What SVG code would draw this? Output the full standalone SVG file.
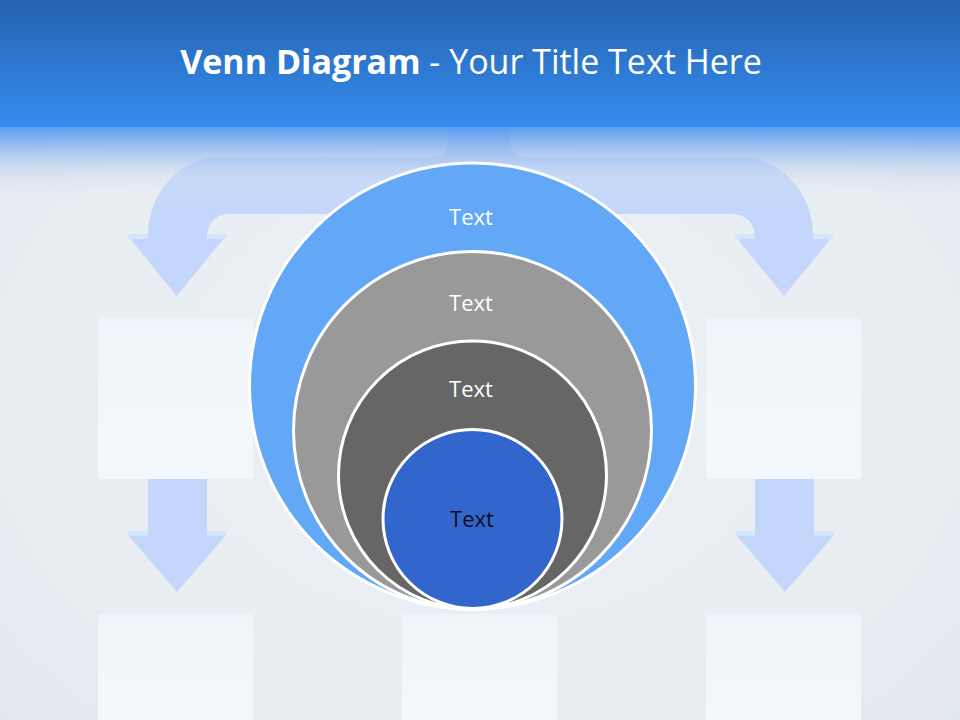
<svg xmlns="http://www.w3.org/2000/svg" width="960" height="720" viewBox="0 0 960 720">
<defs>
<radialGradient id="bg" cx="50%" cy="55%" r="70%">
<stop offset="0" stop-color="#edf1f5"/>
<stop offset="0.7" stop-color="#e8edf2"/>
<stop offset="1" stop-color="#e1e7ee"/>
</radialGradient>
<linearGradient id="hdr" x1="0" y1="0" x2="0" y2="1">
<stop offset="0" stop-color="#2562b0"/>
<stop offset="1" stop-color="#358def"/>
</linearGradient>
<linearGradient id="fade" x1="0" y1="0" x2="0" y2="1">
<stop offset="0" stop-color="#5299f0" stop-opacity="0.95"/>
<stop offset="0.28" stop-color="#8ab3ee" stop-opacity="0.75"/>
<stop offset="0.62" stop-color="#c4d6ef" stop-opacity="0.45"/>
<stop offset="1" stop-color="#e8edf2" stop-opacity="0"/>
</linearGradient>
<linearGradient id="box" x1="0" y1="0" x2="0" y2="1">
<stop offset="0" stop-color="#eff4fa"/>
<stop offset="0.15" stop-color="#f1f6fb"/>
<stop offset="1" stop-color="#f3f8fd"/>
</linearGradient>
<style>
.arrow{fill:#c4d6fb}
.strip{fill:#d2e5fa}
.box{fill:url(#box)}
.ring{stroke:#ffffff;stroke-width:3}
.lbl{font-family:"Open Sans","Noto Sans",sans-serif;font-size:22px;text-anchor:middle}
</style>
</defs>
<rect width="960" height="720" fill="url(#bg)"/>

<g id="connectors">
<path class="arrow" d="M448 100 L448 142 A15 15 0 0 1 433 157 L220 157 A72 79 0 0 0 148 236 L128 236 L176.5 296 L226 236 L207 236 A20 22 0 0 1 227 214 L733 214 A22 22 0 0 1 755 236 L735 236 L784 296 L833 236 L813 236 A73 79 0 0 0 740 157 L525 157 A15 15 0 0 1 510 142 L510 100 Z"/>
<rect class="strip" x="128" y="234" width="20" height="5"/>
<rect class="strip" x="207" y="234" width="19" height="5"/>
<rect class="strip" x="735" y="234" width="20" height="5"/>
<rect class="strip" x="813" y="234" width="20" height="5"/>
<path class="arrow" d="M148 479 L207 479 L207 535 L226 535 L177 592 L128 535 L148 535 Z"/>
<rect class="strip" x="128" y="531" width="20" height="5"/>
<rect class="strip" x="207" y="531" width="19" height="5"/>
<path class="arrow" d="M755 479 L814 479 L814 535 L834 535 L785 592 L736 535 L755 535 Z"/>
<rect class="strip" x="736" y="531" width="19" height="5"/>
<rect class="strip" x="814" y="531" width="20" height="5"/>
</g>

<g id="boxes">
<rect id="box-left-top" class="box" x="98" y="318" width="155" height="161" rx="4"/>
<rect id="box-right-top" class="box" x="706" y="318" width="155" height="161" rx="4"/>
<rect id="box-left-bottom" class="box" x="98" y="614" width="155" height="120" rx="4"/>
<rect id="box-center-bottom" class="box" x="402" y="614" width="155" height="120" rx="4"/>
<rect id="box-right-bottom" class="box" x="706" y="614" width="155" height="120" rx="4"/>
</g>

<g id="header">
<rect x="0" y="0" width="960" height="127" fill="url(#hdr)"/>
<rect x="0" y="127" width="960" height="75" fill="url(#fade)"/>
<text x="471" y="74" font-family="'Open Sans','Noto Sans',sans-serif" font-size="34" fill="#ffffff" text-anchor="middle"><tspan font-weight="bold">Venn Diagram</tspan> - Your Title Text Here</text>
</g>

<g id="circle-1">
<circle class="ring" cx="472.5" cy="386" r="223" fill="#62a8f7"/>
<text class="lbl" x="471" y="225" fill="#ffffff">Text</text>
</g>
<g id="circle-2">
<circle class="ring" cx="472.5" cy="430.5" r="179" fill="#999999"/>
<text class="lbl" x="471" y="311" fill="#ffffff">Text</text>
</g>
<g id="circle-3">
<circle class="ring" cx="472.5" cy="475" r="134" fill="#666666"/>
<text class="lbl" x="471" y="397" fill="#ffffff">Text</text>
</g>
<g id="circle-4">
<circle class="ring" cx="472.5" cy="519" r="89.5" fill="#3366cc"/>
<text class="lbl" x="472" y="527" fill="#0d0d1a">Text</text>
</g>
</svg>
